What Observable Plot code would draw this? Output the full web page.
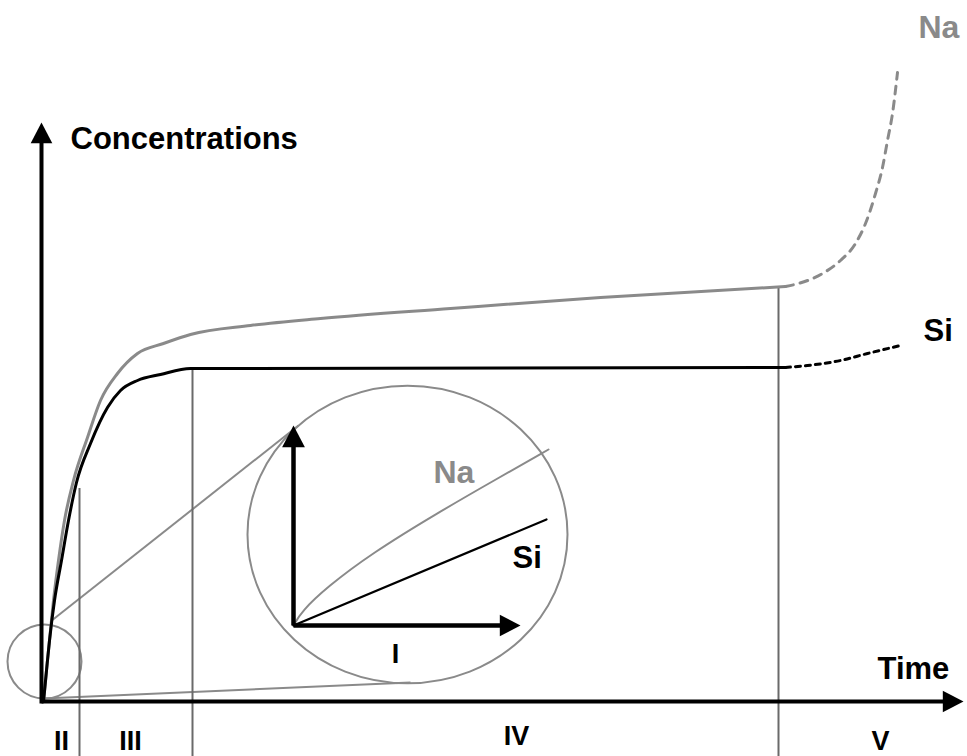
<!DOCTYPE html>
<html><head><meta charset="utf-8">
<script src="https://cdn.jsdelivr.net/npm/d3@7"></script>
<script src="https://cdn.jsdelivr.net/npm/@observablehq/plot@0.6"></script>
<style>html,body{margin:0;padding:0;background:#fff}svg{display:block}</style>
</head><body><div id="chart"></div>
<script>
// Schematic units: t = time, c = concentration (arbitrary)
const naMain = [[0.2,0],[0.5,3.1],[0.8,6.1],[1.2,10.1],[1.7,14.1],[2.3,18.1],[3.2,22.1],[4.6,26.4],[5.9,30.1],[7.6,32.8],[9.6,34.8],[12.2,35.8],[14.9,36.7],[20.9,37.6],[27.9,38.3],[40.9,39.3],[55.9,40.4],[74.4,41.5]];
const siMain = [[0.2,0],[0.5,3.1],[0.8,6.1],[1.3,10.1],[2.0,14.1],[2.7,18.1],[3.5,21.9],[4.9,25.8],[6.6,29.4],[7.9,31.1],[9.6,32.1],[11.9,32.7],[14.9,33.3],[74.4,33.4]];
const naFuture = [[74.4,41.5],[75.7,41.8],[78.1,42.8],[79.9,44.1],[81.4,45.8],[82.4,47.8],[83.4,50.8],[84.1,53.4],[84.6,56.1],[85.1,58.8],[85.6,62.9]];
const siFuture = [[74.4,33.4],[76.6,33.6],[79.9,34.1],[82.6,34.8],[85.9,35.6]];
const phaseBounds = [{t:3.8, top:21.3}, {t:15.1, top:33.3}, {t:73.7, top:41.5}];
const phaseBottom = -6;
const phaseLabels = [{text:"II", t:2.0, c:-4.8}, {text:"III", t:8.9, c:-4.8}, {text:"IV", t:47.5, c:-4.3}, {text:"V", t:83.9, c:-4.8}];
const mainAxes = [{t1:0, c1:-0.2, t2:0, c2:56.8}, {t1:0, c1:0, t2:91.1, c2:0}];
const mainTipsUp = [{t:0, c:57.9}];
const mainTipsRight = [{t:92.2, c:0}];
// zoom inset (stage I)
const zoomSmall = [{t:0.3, c:4.0}];
const zoomBig = [{t:36.6, c:16.7}];
const zoomLinks = [{t1:0.9, c1:8.0, t2:25.7, c2:27.6}, {t1:0.2, c1:0.3, t2:36.9, c2:1.9}];
const insetAxes = [{t1:25.2, c1:7.6, t2:25.2, c2:26.5}, {t1:25.2, c1:7.6, t2:46.8, c2:7.6}];
const insetTipsUp = [{t:25.2, c:27.6}];
const insetTipsRight = [{t:47.9, c:7.6}];
const insetNa = [[25.2,7.6],[26.0,9.0],[28.5,11.4],[33.0,14.8],[39.5,18.8],[45.6,22.3],[50.7,25.2]];
const insetSi = [[25.2,7.6],[50.5,18.2]];
const blackLabels = [{text:"Concentrations", t:2.9, c:55.3}, {text:"Time", t:83.6, c:2.3}, {text:"Si", t:88.2, c:36.1}, {text:"Si", t:47.1, c:13.4}];
const grayLabels = [{text:"Na", t:87.7, c:66.4}, {text:"Na", t:39.2, c:21.9}];
const insetStage = [{text:"I", t:35.4, c:3.9}];

const GRAY = "#8a8a8a", DARK = "#6a6a6a";
const arrowUp = {draw(ctx, size){const r=Math.sqrt(size/Math.PI), L=2.3*r, w=1.2*r; ctx.moveTo(0,0); ctx.lineTo(w,L); ctx.lineTo(-w,L); ctx.closePath();}};
const arrowRight = {draw(ctx, size){const r=Math.sqrt(size/Math.PI), L=2.3*r, w=1.2*r; ctx.moveTo(0,0); ctx.lineTo(-L,-w); ctx.lineTo(-L,w); ctx.closePath();}};
const ellipse = {draw(ctx, size){const r=Math.sqrt(size/Math.PI), rx=r, ry=r*0.93, k=0.5523;
  ctx.moveTo(rx,0); ctx.bezierCurveTo(rx,ry*k,rx*k,ry,0,ry); ctx.bezierCurveTo(-rx*k,ry,-rx,ry*k,-rx,0);
  ctx.bezierCurveTo(-rx,-ry*k,-rx*k,-ry,0,-ry); ctx.bezierCurveTo(rx*k,-ry,rx,-ry*k,rx,0); ctx.closePath();}};
const X = d => d[0], Y = d => d[1];
const font = {fontWeight:"bold", lineAnchor:"bottom"};
const CURVE = "monotone-x";

const chart = Plot.plot({
  width: 967, height: 756, margin: 0,
  x: {domain: [-4.1, 92.6], axis: null},
  y: {domain: [-5.5, 70.1], axis: null},
  style: {background:"#fff", fontFamily:"'Liberation Sans', Arial, sans-serif"},
  marks: [
    Plot.link(zoomLinks, {x1:"t1", y1:"c1", x2:"t2", y2:"c2", stroke:GRAY, strokeWidth:2}),
    Plot.dot(zoomSmall, {x:"t", y:"c", r:37, fill:"none", stroke:GRAY, strokeWidth:2}),
    Plot.dot(zoomBig, {x:"t", y:"c", r:160, symbol:ellipse, fill:"none", stroke:GRAY, strokeWidth:2}),
    Plot.ruleX(phaseBounds, {x:"t", y1:"top", y2:phaseBottom, stroke:DARK, strokeWidth:2}),
    Plot.line(naMain, {x:X, y:Y, stroke:GRAY, strokeWidth:3, curve:CURVE}),
    Plot.line(siMain, {x:X, y:Y, stroke:"#000", strokeWidth:3, curve:CURVE}),
    Plot.line(naFuture, {x:X, y:Y, stroke:GRAY, strokeWidth:3, strokeDasharray:"8,7", curve:CURVE}),
    Plot.line(siFuture, {x:X, y:Y, stroke:"#000", strokeWidth:3, strokeDasharray:"5,5", curve:CURVE}),
    Plot.link(mainAxes, {x1:"t1", y1:"c1", x2:"t2", y2:"c2", stroke:"#000", strokeWidth:4}),
    Plot.dot(mainTipsUp, {x:"t", y:"c", r:9, symbol:arrowUp, fill:"#000", stroke:"none"}),
    Plot.dot(mainTipsRight, {x:"t", y:"c", r:9, symbol:arrowRight, fill:"#000", stroke:"none"}),
    Plot.line(insetNa, {x:X, y:Y, stroke:GRAY, strokeWidth:2, curve:"basis"}),
    Plot.line(insetSi, {x:X, y:Y, stroke:"#000", strokeWidth:2.2}),
    Plot.link(insetAxes, {x1:"t1", y1:"c1", x2:"t2", y2:"c2", stroke:"#000", strokeWidth:4.5}),
    Plot.dot(insetTipsUp, {x:"t", y:"c", r:9.5, symbol:arrowUp, fill:"#000", stroke:"none"}),
    Plot.dot(insetTipsRight, {x:"t", y:"c", r:9, symbol:arrowRight, fill:"#000", stroke:"none"}),
    Plot.text(blackLabels, {x:"t", y:"c", text:"text", textAnchor:"start", fontSize:31, fill:"#000", ...font}),
    Plot.text(grayLabels, {x:"t", y:"c", text:"text", textAnchor:"start", fontSize:32, fill:GRAY, ...font}),
    Plot.text(phaseLabels, {x:"t", y:"c", text:"text", textAnchor:"middle", fontSize:27, fill:"#000", ...font}),
    Plot.text(insetStage, {x:"t", y:"c", text:"text", textAnchor:"middle", fontSize:27, fill:"#000", ...font})
  ]
});
document.getElementById("chart").appendChild(chart);
</script>
</body></html>
